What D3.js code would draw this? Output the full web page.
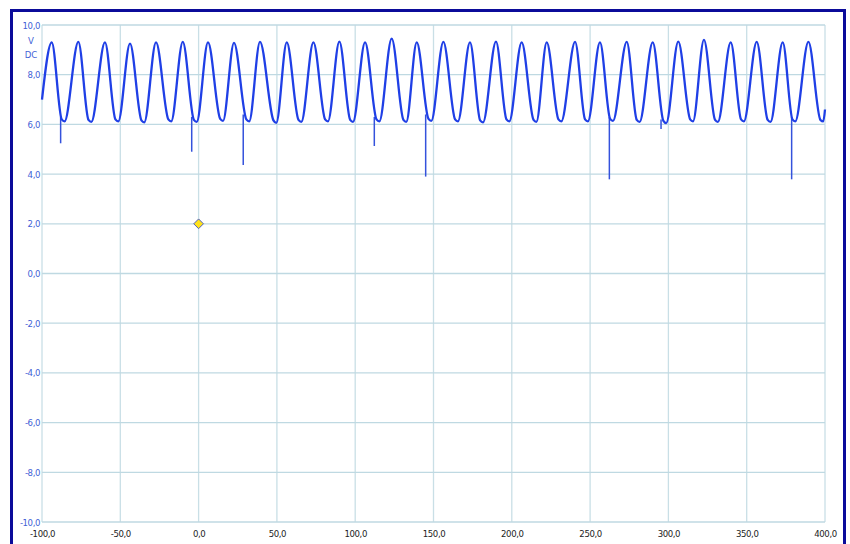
<!doctype html>
<html lang="en">
<head>
<meta charset="UTF-8">
<title>Voltage DC</title>
<script src="https://d3js.org/d3.v7.min.js"></script>
<style>
  body { margin: 0; background: #fff; }
  svg text { font-family: "DejaVu Sans Condensed", "Liberation Sans Narrow", sans-serif; }
</style>
</head>
<body>
<div id="chart"></div>
<script>
var peakT = [-93.8, -76.8, -59.8, -43.8, -27.2, -10.1, 6.0, 22.6, 39.2, 56.3,
             73.3, 89.9, 106.3, 123.3, 139.3, 156.3, 173.3, 189.9, 206.3, 222.3,
             240.4, 256.3, 273.4, 290.0, 306.3, 322.7, 339.8, 356.4, 373.0, 389.4];
var peakV = [9.30, 9.32, 9.30, 9.25, 9.30, 9.32, 9.30, 9.28, 9.32, 9.30,
             9.30, 9.33, 9.30, 9.45, 9.30, 9.32, 9.30, 9.33, 9.30, 9.30,
             9.32, 9.30, 9.32, 9.30, 9.33, 9.40, 9.30, 9.32, 9.30, 9.32];
// short flat bottom of each trough: where it starts and ends
var troughStartT = [-87.4, -70.3, -53.1, -36.5, -19.3, -3.0, 13.8, 30.5, 47.8, 63.8,
                    80.8, 96.8, 113.6, 130.8, 146.8, 163.8, 179.8, 196.6, 213.9, 229.8,
                    246.8, 262.8, 279.8, 296.8, 313.9, 329.8, 346.4, 363.4, 379.2, 397.1];
var troughEndT = [-85.6, -68.5, -51.3, -34.7, -17.5, -1.2, 15.6, 32.3, 49.6, 65.6,
                  82.6, 98.6, 115.4, 132.6, 148.6, 165.6, 181.6, 198.4, 215.7, 231.6,
                  248.6, 264.6, 281.6, 298.6, 315.7, 331.6, 348.2, 365.2, 381.0, 398.9];
var troughStartV = [6.20, 6.18, 6.20, 6.16, 6.20, 6.18, 6.22, 6.20, 6.16, 6.18,
                    6.20, 6.18, 6.20, 6.18, 6.22, 6.20, 6.16, 6.20, 6.18, 6.20,
                    6.20, 6.22, 6.18, 6.14, 6.20, 6.18, 6.20, 6.18, 6.20, 6.18];
var troughEndV = [6.12, 6.10, 6.12, 6.08, 6.12, 6.10, 6.14, 6.12, 6.06, 6.10,
                  6.12, 6.10, 6.12, 6.10, 6.14, 6.12, 6.08, 6.12, 6.10, 6.12,
                  6.12, 6.14, 6.10, 6.05, 6.12, 6.10, 6.12, 6.10, 6.12, 6.12];
var startPoint = [-100, 7.0];
var endPoint = [400, 6.6];

// short downward glitches
var spikeT = [-88.1, -4.4, 28.5, 112.2, 145.0, 262.3, 295.3, 378.7];
var spikeTop = [6.3, 6.3, 6.4, 6.3, 6.4, 6.3, 6.2, 6.3];
var spikeBottom = [5.24, 4.90, 4.37, 5.13, 3.90, 3.79, 5.81, 3.79];

var markerT = 0, markerV = 2.0;

var xTicks = [-100, -50, 0, 50, 100, 150, 200, 250, 300, 350, 400];
var yTicks = [-10, -8, -6, -4, -2, 0, 2, 4, 6, 8, 10];

var width = 850, height = 544;
var fmt = function(d){ return d3.format(".1f")(d).replace(".", ",").replace("\u2212", "-"); };

var x = d3.scaleLinear().domain([-100, 400]).range([42, 825]);
var y = d3.scaleLinear().domain([-10, 10]).range([522, 25]);

var svg = d3.select("#chart").append("svg")
  .attr("width", width)
  .attr("height", height);

svg.append("rect").attr("width", width).attr("height", height).attr("fill", "#fff");

// grid
svg.append("g").selectAll("line").data(xTicks).enter().append("line")
  .attr("x1", function(d){ return x(d); }).attr("x2", function(d){ return x(d); })
  .attr("y1", y(10)).attr("y2", y(-10))
  .attr("stroke", "#c9dfe6").attr("stroke-width", 1.3);
svg.append("g").selectAll("line").data(yTicks).enter().append("line")
  .attr("x1", x(-100)).attr("x2", x(400))
  .attr("y1", function(d){ return y(d); }).attr("y2", function(d){ return y(d); })
  .attr("stroke", "#bfd9e2").attr("stroke-width", 1.3);

// axes
var yAxis = d3.axisLeft(y).tickValues(yTicks).tickFormat(fmt).tickSize(0).tickPadding(2);
var gy = svg.append("g").attr("transform", "translate(" + x(-100) + ",0)").call(yAxis);
gy.select(".domain").remove();
gy.selectAll("text").attr("fill", "#3f5fd6").attr("font-size", 9.5).attr("letter-spacing", -0.4);

var xAxis = d3.axisBottom(x).tickValues(xTicks).tickFormat(fmt).tickSize(0).tickPadding(8);
var gx = svg.append("g").attr("transform", "translate(0," + y(-10) + ")").call(xAxis);
gx.select(".domain").remove();
gx.selectAll("text").attr("fill", "#222").attr("font-size", 9.5).attr("letter-spacing", -0.4);

// unit label
svg.append("text").attr("x", 31).attr("y", 44).attr("text-anchor", "middle")
  .attr("fill", "#3f5fd6").attr("font-size", 9.5).text("V");
svg.append("text").attr("x", 31).attr("y", 58).attr("text-anchor", "middle")
  .attr("fill", "#3f5fd6").attr("font-size", 9.5).text("DC");

// spikes
svg.append("g").selectAll("line").data(spikeT).enter().append("line")
  .attr("x1", function(d){ return x(d); }).attr("x2", function(d){ return x(d); })
  .attr("y1", function(d, i){ return y(spikeTop[i]); })
  .attr("y2", function(d, i){ return y(spikeBottom[i]); })
  .attr("stroke", "#3452dc").attr("stroke-width", 1.5);

// waveform
var pts = [startPoint];
peakT.forEach(function(t, i){
  pts.push([t, peakV[i]]);
  pts.push([troughStartT[i], troughStartV[i]]);
  pts.push([troughEndT[i], troughEndV[i]]);
});
pts.push(endPoint);

var line = d3.line()
  .x(function(d){ return x(d[0]); })
  .y(function(d){ return y(d[1]); })
  .curve(d3.curveMonotoneX);

svg.append("path").datum(pts)
  .attr("d", line)
  .attr("fill", "none")
  .attr("stroke", "#1f3fe6")
  .attr("stroke-width", 2.3)
  .attr("stroke-linejoin", "round");

// marker
svg.append("path")
  .attr("d", d3.symbol().type(d3.symbolDiamond2).size(60))
  .attr("transform", "translate(" + x(markerT) + "," + y(markerV) + ")")
  .attr("fill", "#ffe21a").attr("stroke", "#5060c0").attr("stroke-width", 1);

// outer frame
svg.append("rect")
  .attr("x", 11.5).attr("y", 10.5).attr("width", 833).attr("height", 545)
  .attr("fill", "none").attr("stroke", "#0b0b9a").attr("stroke-width", 3);
</script>
</body>
</html>
